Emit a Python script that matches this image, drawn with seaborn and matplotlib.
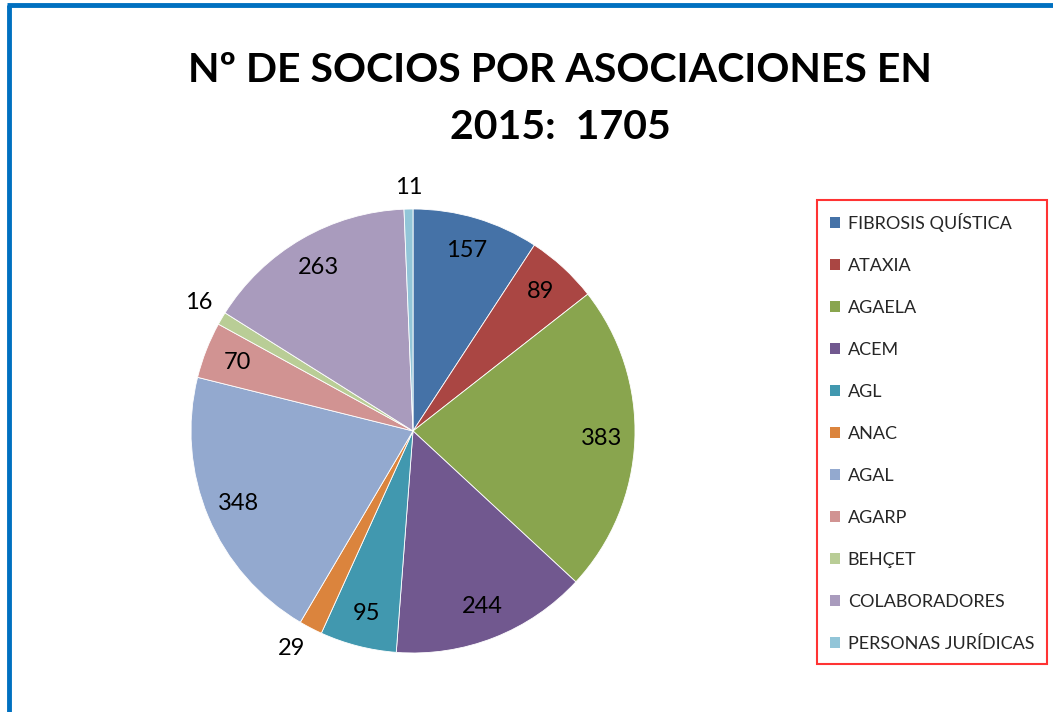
import matplotlib
matplotlib.use("Agg")
import matplotlib.pyplot as plt
from matplotlib.lines import Line2D
import numpy as np
import seaborn as sns

# Data
categories = ['FIBROSIS QUÍSTICA', 'ATAXIA', 'AGAELA', 'ACEM', 'AGL', 'ANAC',
              'AGAL', 'AGARP', 'BEHÇET', 'COLABORADORES', 'PERSONAS JURÍDICAS']
socios = [157, 89, 383, 244, 95, 29, 348, 70, 16, 263, 11]
title = 'Nº DE SOCIOS POR ASOCIACIONES EN\n2015:  1705'

colors = ['#4572A7', '#AA4643', '#89A54E', '#71588F', '#4198AF', '#DB843D',
          '#93A9CF', '#D19392', '#B9CD96', '#A99BBD', '#92C5D8']

sns.set_theme(style="white")
plt.rcParams['font.family'] = ['Lato', 'DejaVu Sans']

W, H = 1053, 712
fig = plt.figure(figsize=(W / 100, H / 100), dpi=100)

# pie axes: centre (413, 431), radius 222 px
cx, cy, r = 413, 431, 222
ax = fig.add_axes([(cx - r) / W, (H - cy - r) / H, 2 * r / W, 2 * r / H])
wedges, _ = ax.pie(socios, colors=colors, startangle=90, counterclock=False,
                   radius=1, wedgeprops=dict(edgecolor='white', linewidth=0.6))
ax.set_xlim(-1, 1)
ax.set_ylim(-1, 1)
ax.set_aspect('equal')
ax.axis('off')

# value labels: small slices outside (anchored by nearest edge), others inside
for w, v in zip(wedges, socios):
    ang = np.deg2rad((w.theta1 + w.theta2) / 2)
    c, s = np.cos(ang), np.sin(ang)
    if v < 30:
        ha = 'center' if abs(c) < 0.2 else ('left' if c > 0 else 'right')
        va = 'center' if abs(s) < 0.2 else ('bottom' if s > 0 else 'top')
        d = 1.05
    else:
        ha, va, d = 'center', 'center', 0.85
    ax.text(d * c, d * s, str(v), ha=ha, va=va, fontsize=17, color='black',
            clip_on=False)

fig.text(560 / W, 1 - 99 / H, title, ha='center', va='center', fontsize=29.5,
         fontweight='bold', linespacing=1.66, color='black')

leg = fig.legend(wedges, categories, loc='upper left',
                 bbox_to_anchor=(817 / W, 1 - 200 / H), fontsize=13,
                 frameon=True, fancybox=False, edgecolor='#FF0000',
                 handlelength=0.55, handleheight=0.55, handletextpad=0.45,
                 labelspacing=1.44, borderpad=0.7, borderaxespad=0)
leg.get_frame().set_linewidth(1.5)
for h in leg.legend_handles:
    h.set_edgecolor('none')

# blue frame on the left and top
fig.add_artist(Line2D([9 / W, 9 / W], [0, 1 - 5 / H], color='#0070C0', lw=3.5,
                      transform=fig.transFigure, solid_capstyle='butt'))
fig.add_artist(Line2D([7 / W, 1], [1 - 5 / H, 1 - 5 / H], color='#0070C0', lw=3.5,
                      transform=fig.transFigure, solid_capstyle='butt'))

fig.savefig('out.png', dpi=100, facecolor='white')
